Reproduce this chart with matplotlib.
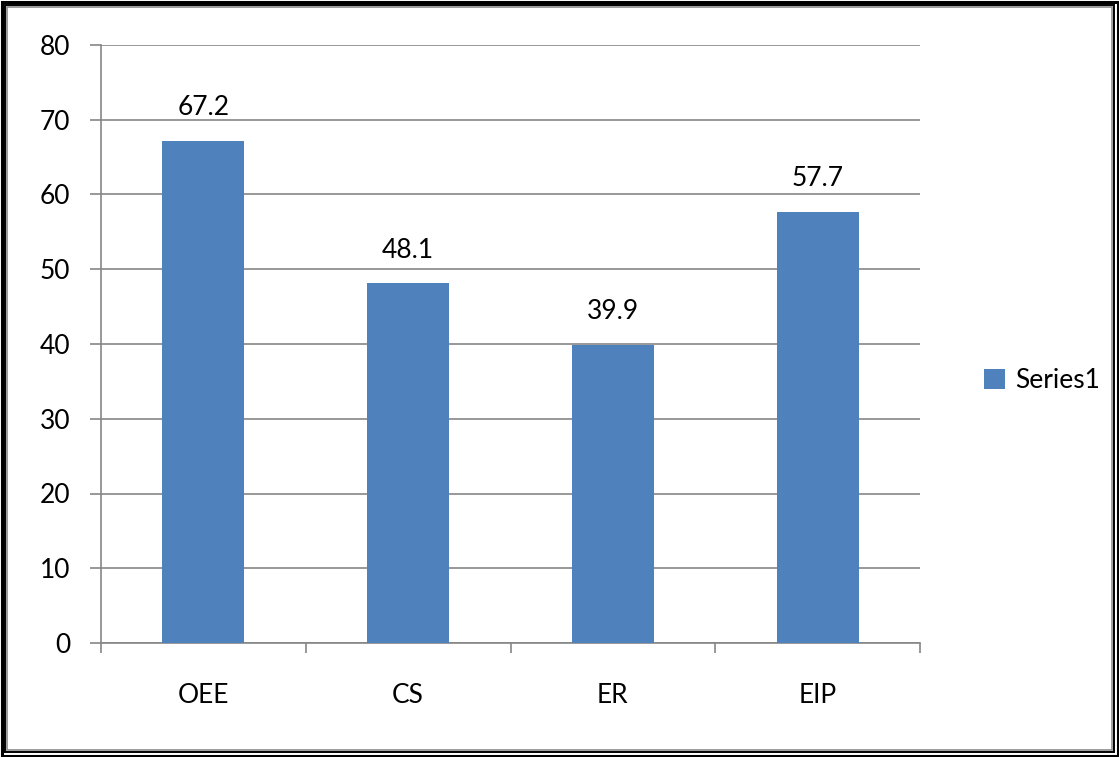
import matplotlib.pyplot as plt
from matplotlib.patches import Rectangle, Patch

categories = ['OEE', 'CS', 'ER', 'EIP']
values = [67.2, 48.1, 39.9, 57.7]
series_name = 'Series1'
yticks = [0, 10, 20, 30, 40, 50, 60, 70, 80]

bar_color = '#4F81BD'
grid_color = '#868686'

plt.rcParams['font.family'] = ['Lato', 'DejaVu Sans']

W, H = 1119, 757
fig = plt.figure(figsize=(W / 100, H / 100), dpi=100)

# double frame around the whole chart
def frame(x0, y0, x1, y1, color, lw):
    fig.patches.append(Rectangle((x0 / W, 1 - y1 / H), (x1 - x0) / W, (y1 - y0) / H,
                                 transform=fig.transFigure, fill=False,
                                 edgecolor=color, linewidth=lw, zorder=10))

frame(1.5, 1.5, W - 1.5, H - 1.5, 'black', 2.2)
frame(5, 5, W - 5, H - 5, 'black', 1.4)
frame(7, 7, W - 7, H - 7, '#8c8c8c', 1.2)

ax = fig.add_axes([101 / W, 1 - 643 / H, (920 - 101) / W, (643 - 45) / H])
x = range(len(categories))
bars = ax.bar(x, values, width=0.4, color=bar_color, zorder=3, label=series_name)

ax.set_xlim(-0.5, len(categories) - 0.5)
ax.set_ylim(0, 80)
ax.set_yticks(yticks)
ax.yaxis.grid(True, color=grid_color, linewidth=1.2, zorder=0)

for s in ['top', 'right']:
    ax.spines[s].set_visible(False)
for s in ['left', 'bottom']:
    ax.spines[s].set_color(grid_color)
    ax.spines[s].set_linewidth(1.2)

# category ticks sit on the boundaries, labels in the middle
ax.set_xticks([i - 0.5 for i in range(len(categories) + 1)], minor=False)
ax.set_xticklabels([])
ax.set_xticks(list(x), minor=True)
ax.set_xticklabels(categories, minor=True)
ax.tick_params(axis='x', which='major', length=7, color=grid_color, width=1.2, direction='out')
ax.tick_params(axis='x', which='minor', length=0, pad=29, labelsize=19)
ax.tick_params(axis='y', length=8, color=grid_color, width=1.2, labelsize=19, pad=14)

for b, v in zip(bars, values):
    ax.annotate(f'{v}', (b.get_x() + b.get_width() / 2, v), xytext=(0, 15),
                textcoords='offset points', ha='center', va='bottom', fontsize=19)

handles = [Patch(facecolor=bar_color, label=series_name)]
fig.legend(handles=handles, loc='center left', bbox_to_anchor=(960 / W, 1 - 381 / H),
           frameon=False, fontsize=19, handlelength=0.8, handleheight=0.8,
           handletextpad=0.4)

fig.savefig('out.png', dpi=100)
